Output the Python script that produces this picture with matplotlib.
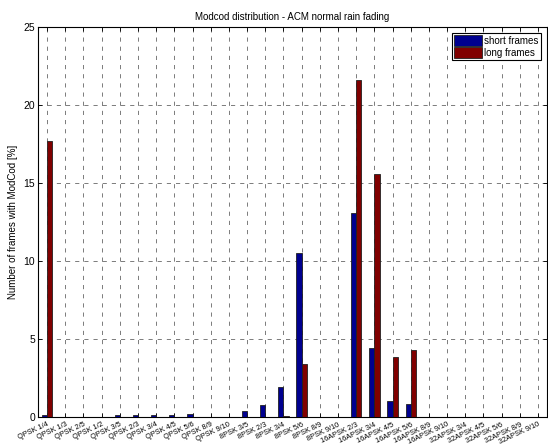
import numpy as np
import matplotlib
matplotlib.use('Agg')
import matplotlib.pyplot as plt

plt.rcParams['font.family'] = ['Liberation Sans', 'DejaVu Sans']

modcods = ['QPSK 1/4', 'QPSK 1/3', 'QPSK 2/5', 'QPSK 1/2', 'QPSK 3/5', 'QPSK 2/3',
           'QPSK 3/4', 'QPSK 4/5', 'QPSK 5/6', 'QPSK 8/9', 'QPSK 9/10',
           '8PSK 3/5', '8PSK 2/3', '8PSK 3/4', '8PSK 5/6', '8PSK 8/9', '8PSK 9/10',
           '16APSK 2/3', '16APSK 3/4', '16APSK 4/5', '16APSK 5/6', '16APSK 8/9',
           '16APSK 9/10', '32APSK 3/4', '32APSK 4/5', '32APSK 5/6', '32APSK 8/9',
           '32APSK 9/10']

# percentage of frames per modcod
short_frames = [0.1, 0.02, 0.02, 0.0, 0.15, 0.15, 0.1, 0.1, 0.22, 0.0, 0.0,
                0.4, 0.8, 1.9, 10.5, 0.0, 0.0,
                13.1, 4.45, 1.05, 0.83, 0.0, 0.0,
                0.0, 0.0, 0.0, 0.0, 0.0]
long_frames = [17.7, 0.0, 0.0, 0.0, 0.0, 0.0, 0.0, 0.0, 0.0, 0.0, 0.0,
               0.0, 0.0, 0.05, 3.4, 0.0, 0.0,
               21.6, 15.55, 3.85, 4.3, 0.0, 0.0,
               0.0, 0.0, 0.0, 0.0, 0.0]

x = np.arange(len(modcods))
w = 0.286

fig = plt.figure(figsize=(5.48, 4.46), dpi=100)
ax = fig.add_axes([0.0693, 0.065, 0.929, 0.8745])

ax.bar(x - w / 2, short_frames, w, color='#00008f', edgecolor='#202020', linewidth=0.6,
       label='short frames', zorder=3)
ax.bar(x + w / 2, long_frames, w, color='#800000', edgecolor='#202020', linewidth=0.6,
       label='long frames', zorder=3)

ax.set_xlim(-0.5, len(modcods) - 0.5)
ax.set_ylim(0, 25)
ax.set_yticks([0, 5, 10, 15, 20, 25])
ax.set_xticks(x)
ax.set_xticklabels(modcods, rotation=25, ha='right', rotation_mode='anchor', fontsize=5.3)
ax.tick_params(axis='y', labelsize=7.5)
ax.tick_params(direction='in', top=True, right=True, length=3, width=0.6, pad=2)
ax.tick_params(axis='x', pad=3)
ax.grid(True, color='black', linestyle=(0, (5, 6)), linewidth=0.6, alpha=0.6, zorder=0)
for s in ax.spines.values():
    s.set_linewidth(0.8)

ax.set_ylabel('Number of frames with ModCod [%]', fontsize=7, labelpad=4)
ax.set_title('Modcod distribution - ACM normal rain fading', fontsize=7, pad=5)

leg = ax.legend(loc='upper right', fontsize=7, fancybox=False, edgecolor='black',
                handlelength=2.8, handleheight=1.3, handletextpad=0.3,
                borderpad=0.25, labelspacing=0.15, borderaxespad=0.6)
leg.get_frame().set_linewidth(0.8)
leg.get_frame().set_alpha(1)

fig.savefig('out.png', dpi=100)
